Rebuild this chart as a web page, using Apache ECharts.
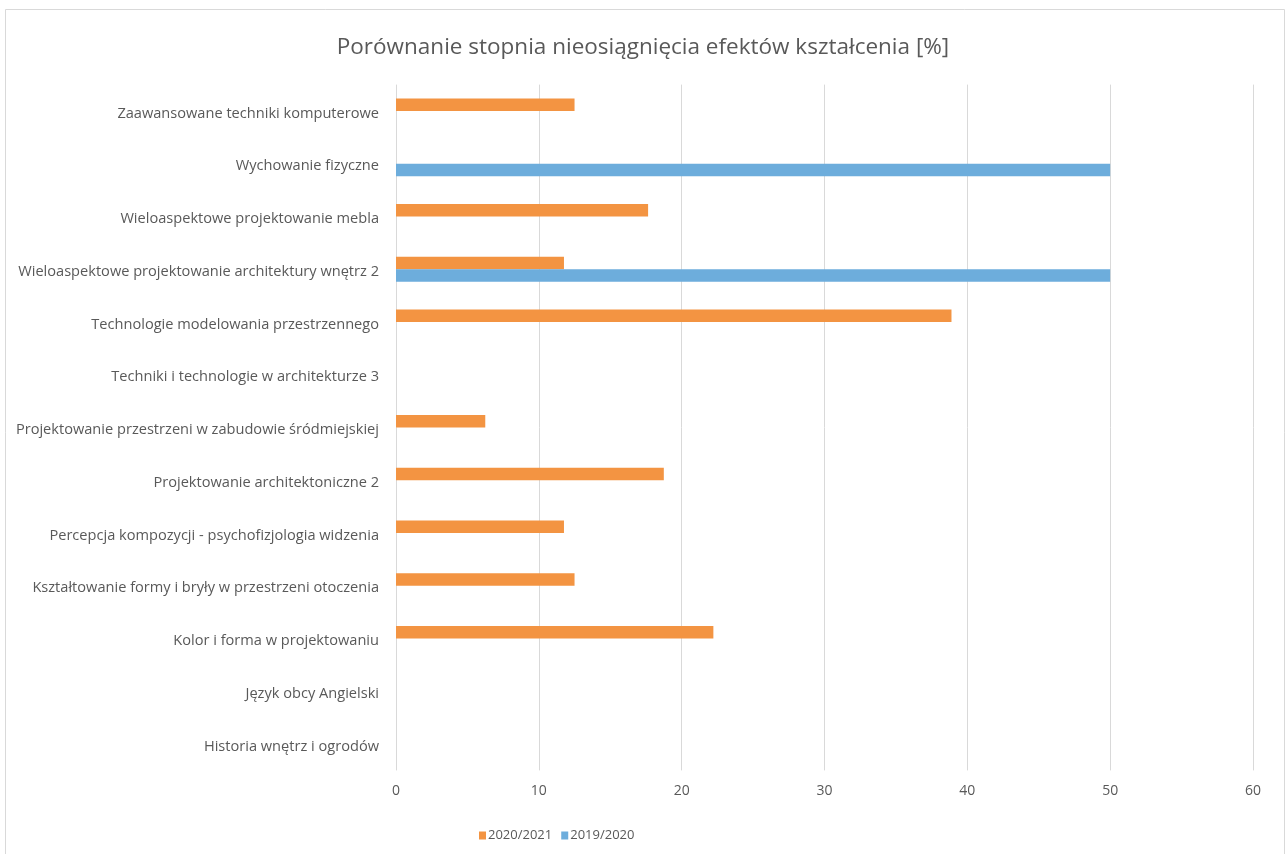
<!DOCTYPE html>
<html>
<head>
<meta charset="utf-8">
<script src="https://cdn.jsdelivr.net/npm/echarts@6/dist/echarts.min.js"></script>
<style>
html,body{margin:0;padding:0;background:#fff;}
#chart{width:1286px;height:854px;}
</style>
</head>
<body>
<div id="chart"></div>
<script>
const categories = [
  "Zaawansowane techniki komputerowe",
  "Wychowanie fizyczne",
  "Wieloaspektowe projektowanie mebla",
  "Wieloaspektowe projektowanie architektury wnętrz 2",
  "Technologie modelowania przestrzennego",
  "Techniki i technologie w architekturze 3",
  "Projektowanie przestrzeni w zabudowie śródmiejskiej",
  "Projektowanie architektoniczne 2",
  "Percepcja kompozycji - psychofizjologia widzenia",
  "Kształtowanie formy i bryły w przestrzeni otoczenia",
  "Kolor i forma w projektowaniu",
  "Język obcy Angielski",
  "Historia wnętrz i ogrodów"
];
const series2020_2021 = [12.5, 0, 17.65, 11.76, 38.89, 0, 6.25, 18.75, 11.76, 12.5, 22.22, 0, 0];
const series2019_2020 = [0, 50, 0, 50, 0, 0, 0, 0, 0, 0, 0, 0, 0];
const seriesNames = ["2020/2021", "2019/2020"];
const xTicks = {min: 0, max: 60, interval: 10};

const textColor = '#595959';
const font = '"Open Sans"';
const chart = echarts.init(document.getElementById('chart'), null, {renderer: 'canvas'});
chart.setOption({
  backgroundColor: '#fff',
  animation: false,
  title: {
    text: 'Porównanie stopnia nieosiągnięcia efektów kształcenia [%]',
    left: 'center',
    top: 31,
    textStyle: {fontFamily: font, fontSize: 22.5, fontWeight: 'normal', color: textColor}
  },
  graphic: [{
    type: 'rect',
    shape: {x: 5.5, y: 9.5, width: 1279, height: 860},
    style: {fill: 'none', stroke: '#d9d9d9', lineWidth: 1},
    silent: true
  }],
  legend: {
    data: seriesNames,
    left: 474,
    top: 824,
    icon: 'rect',
    itemWidth: 7,
    itemHeight: 8,
    itemGap: 9,
    textStyle: {fontFamily: font, fontSize: 13, color: textColor, padding: [0, 0, 0, -3]}
  },
  grid: {left: 396, right: 33, top: 84.6, bottom: 83.6, containLabel: false},
  xAxis: {
    type: 'value',
    min: xTicks.min, max: xTicks.max, interval: xTicks.interval,
    axisLine: {show: false},
    axisTick: {show: false},
    axisLabel: {fontFamily: font, fontSize: 14, color: textColor, margin: 14},
    splitLine: {show: true, lineStyle: {color: '#d9d9d9', width: 1}}
  },
  yAxis: {
    type: 'category',
    data: categories,
    inverse: true,
    axisLine: {show: false},
    axisTick: {show: false},
    axisLabel: {
      color: textColor, margin: 17,
      formatter: function (v) { return '{a|' + v + '}'; },
      rich: {a: {fontFamily: font, fontSize: 14.6, color: textColor, padding: [5, 0, 0, 0]}}
    },
    splitLine: {show: false}
  },
  series: [
    {
      name: seriesNames[0], type: 'bar', data: series2020_2021,
      barWidth: 12.6, barGap: '0%',
      itemStyle: {color: '#F39442'}
    },
    {
      name: seriesNames[1], type: 'bar', data: series2019_2020,
      barWidth: 12.6, barGap: '0%',
      itemStyle: {color: '#6DADDC'}
    }
  ]
});
</script>
</body>
</html>
